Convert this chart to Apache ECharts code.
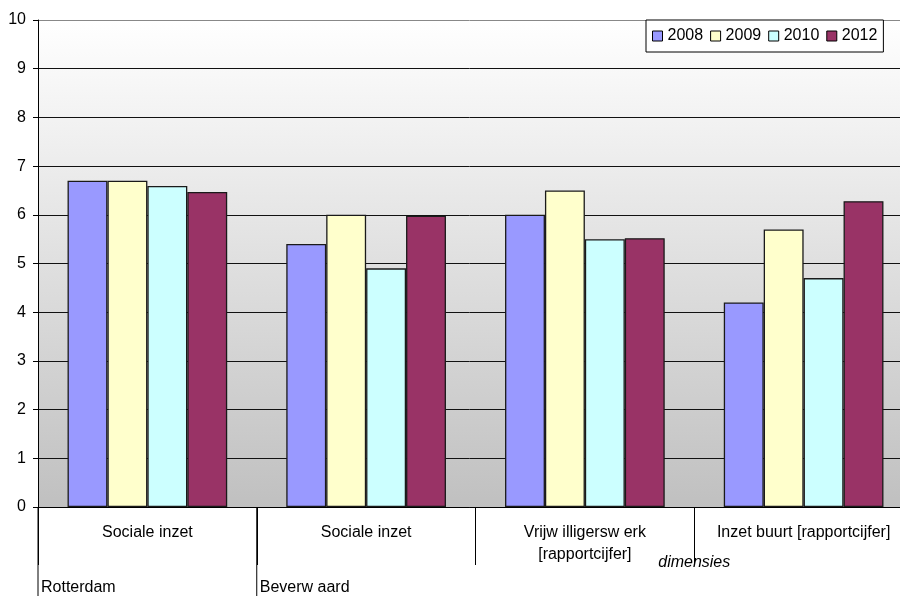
<!DOCTYPE html>
<html>
<head>
<meta charset="utf-8">
<script src="https://cdn.jsdelivr.net/npm/echarts@6/dist/echarts.min.js"></script>
<style>
html,body{margin:0;padding:0;background:#fff;}
#main{width:900px;height:596px;}
</style>
</head>
<body>
<div id="main"></div>
<script>
const categories = ['Sociale inzet', 'Sociale inzet', 'Vrijw illigersw erk\n[rapportcijfer]', 'Inzet buurt [rapportcijfer]'];
const groupLabels = ['Rotterdam', 'Beverw aard'];
const seriesNames = ['2008', '2009', '2010', '2012'];
const v2008 = [6.7, 5.4, 6.0, 4.2];
const v2009 = [6.7, 6.0, 6.5, 5.7];
const v2010 = [6.59, 4.9, 5.5, 4.7];
const v2012 = [6.47, 5.98, 5.52, 6.28];
const yTicks = [0, 10, 1];
const axisTitle = 'dimensies';

const colors = ['#9999FF', '#FFFFCC', '#CCFFFF', '#993366'];
const values = [v2008, v2009, v2010, v2012];
const FONT = 'Liberation Sans, Arial, sans-serif';
const gridColors = ['#111', '#111', '#111', '#111', '#111', '#111', '#111', '#111', '#111', '#111', '#888'];

const chart = echarts.init(document.getElementById('main'), null, {renderer: 'canvas'});

const option = {
  animation: false,
  textStyle: {fontFamily: FONT},
  grid: {
    left: 38, width: 875, top: 20, bottom: 89,
    outerBoundsMode: 'none',
    containLabel: false,
    show: true,
    borderWidth: 0,
    backgroundColor: new echarts.graphic.LinearGradient(0, 0, 0, 1, [
      {offset: 0, color: '#ffffff'},
      {offset: 1, color: '#c0c0c0'}
    ])
  },
  legend: {
    data: seriesNames,
    left: 646, top: 20,
    backgroundColor: '#ffffff',
    borderColor: '#000', borderWidth: 1,
    padding: [8, 6],
    itemGap: 7,
    itemWidth: 10, itemHeight: 10,
    icon: 'rect',
    itemStyle: {borderColor: '#000', borderWidth: 1},
    textStyle: {fontSize: 16, color: '#000', fontFamily: FONT}
  },
  xAxis: {
    type: 'category',
    data: categories,
    axisLine: {lineStyle: {color: '#000', width: 1}},
    axisTick: {show: true, length: 58, lineStyle: {color: '#000'}},
    axisLabel: {interval: 0, fontSize: 16, color: '#000', margin: 15, lineHeight: 22, fontFamily: FONT, align: 'center'},
    splitLine: {show: false}
  },
  yAxis: {
    type: 'value',
    min: yTicks[0], max: yTicks[1], interval: yTicks[2],
    axisLine: {show: true, lineStyle: {color: '#000', width: 1}},
    axisTick: {show: true, length: 5, lineStyle: {color: '#000'}},
    axisLabel: {fontSize: 16, color: '#000', margin: 12, fontFamily: FONT},
    splitLine: {show: true, lineStyle: {color: gridColors, width: 1}}
  },
  series: seriesNames.map((n, i) => ({
    name: n,
    type: 'bar',
    data: values[i],
    barGap: '0%',
    barCategoryGap: '27%',
    itemStyle: {color: colors[i], borderColor: '#1a1a1a', borderWidth: 1.3}
  }))
};
chart.setOption(option);

// axis decorations: outer-level separators and labels, positioned from the axis scale
const c = [0, 1, 2, 3].map(i => chart.convertToPixel({xAxisIndex: 0}, i));
const bw = c[1] - c[0];
const boundary = k => c[0] - bw / 2 + k * bw;
const y0 = chart.convertToPixel({yAxisIndex: 0}, 0);
const H = 596;
chart.setOption({
  graphic: [
    {type: 'line', shape: {x1: boundary(0), y1: y0, x2: boundary(0), y2: H}, style: {stroke: '#000', lineWidth: 1}},
    {type: 'line', shape: {x1: boundary(1), y1: y0, x2: boundary(1), y2: H}, style: {stroke: '#000', lineWidth: 1}},
    {type: 'text', left: boundary(0) + 3, top: y0 + 73, style: {text: groupLabels[0], font: '16px ' + FONT, fill: '#000'}},
    {type: 'text', left: boundary(1) + 3, top: y0 + 73, style: {text: groupLabels[1], font: '16px ' + FONT, fill: '#000'}},
    {type: 'text', x: boundary(3), y: y0 + 56, style: {text: axisTitle, font: 'italic 16px ' + FONT, fill: '#000', align: 'center', verticalAlign: 'middle'}}
  ]
});
</script>
</body>
</html>
